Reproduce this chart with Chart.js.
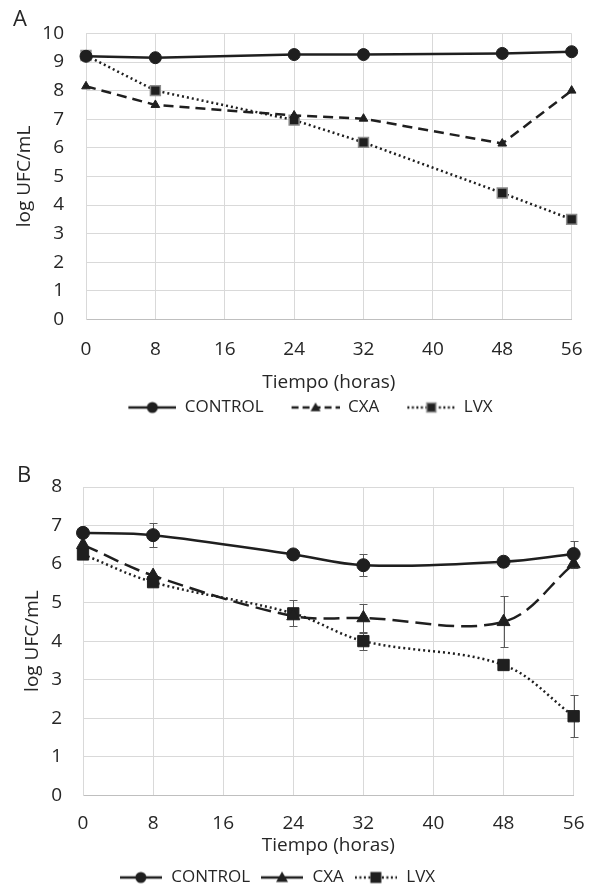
<!DOCTYPE html>
<html lang="es">
<head>
<meta charset="UTF-8">
<title>log UFC/mL</title>
<script src="https://cdn.jsdelivr.net/npm/chart.js"></script>
<style>
  html, body { margin: 0; background: #fff; overflow: hidden; }
  .wrap { position: relative; width: 601px; height: 890px; overflow: hidden; font-family: "Open Sans", sans-serif; color: #262626; }
  .panel { position: absolute; left: 0; width: 601px; }
  .tag { position: absolute; font-size: 22px; line-height: 26px; }
</style>
</head>
<body>
<div class="wrap">
  <div class="panel" style="top:0;height:430px"><canvas id="chartA" width="601" height="430"></canvas></div>
  <div class="panel" style="top:434px;height:462px"><canvas id="chartB" width="601" height="462"></canvas></div>
  <div class="tag" style="left:13px;top:4px">A</div>
  <div class="tag" style="left:17px;top:460px">B</div>
</div>
<script>
var hours = [0, 8, 24, 32, 48, 56]
var seriesNames = ['CONTROL', 'CXA', 'LVX']

// panel A
var controlA = [9.2, 9.15, 9.26, 9.26, 9.3, 9.36]
var cxaA = [8.15, 7.5, 7.13, 7.02, 6.15, 8.0]
var lvxA = [9.23, 8.0, 6.97, 6.19, 4.42, 3.5]

// panel B (with error bars)
var controlB = [6.81, 6.75, 6.25, 5.97, 6.06, 6.26]
var cxaB = [6.5, 5.7, 4.65, 4.6, 4.5, 6.0]
var lvxB = [6.25, 5.53, 4.72, 4.0, 3.38, 2.05]
var controlBErr = [0.05, 0.32, 0.1, 0.28, 0.1, 0.35]
var cxaBErr = [0, 0, 0, 0.37, 0.66, 0]
var lvxBErr = [0, 0, 0.34, 0.22, 0, 0.55]

var ink = '#1f1f1f'
Chart.defaults.font.family = '"Open Sans", sans-serif'
Chart.defaults.font.size = 19
Chart.defaults.color = '#262626'

function pts(ys) {
    return hours.map(function (h, i) { return {x: h, y: ys[i]} })
}

// little line + marker pictures for the legend, with blank room on the left
function icon(gap, w, dash, marker, r, border) {
    var c = document.createElement('canvas')
    c.width = gap + w; c.height = 18
    var g = c.getContext('2d')
    g.strokeStyle = ink; g.lineWidth = 2.5
    g.setLineDash(dash)
    g.beginPath(); g.moveTo(gap, 9); g.lineTo(gap + w, 9); g.stroke()
    g.setLineDash([])
    g.fillStyle = ink
    var cx = gap + w / 2
    g.beginPath()
    if (marker == 'circle') g.arc(cx, 9, r, 0, Math.PI * 2)
    if (marker == 'triangle') { g.moveTo(cx, 9 - r); g.lineTo(cx + r, 9 + r * 0.75); g.lineTo(cx - r, 9 + r * 0.75); g.closePath() }
    if (marker == 'rect') g.rect(cx - r, 9 - r, 2 * r, 2 * r)
    g.fill()
    if (border) { g.strokeStyle = border; g.lineWidth = 1.5; g.stroke() }
    return c
}

var errorBars = {
    id: 'errorBars',
    beforeDatasetsDraw: function (chart) {
        var ctx = chart.ctx, xs = chart.scales.x, ys = chart.scales.y
        ctx.save()
        ctx.strokeStyle = '#595959'
        ctx.lineWidth = 1
        chart.data.datasets.forEach(function (ds) {
            if (!ds.errors) return
            ds.data.forEach(function (p, i) {
                var e = ds.errors[i]
                if (!e) return
                var x = Math.round(xs.getPixelForValue(p.x)) + 0.5
                var top = Math.round(ys.getPixelForValue(p.y + e)) + 0.5
                var bot = Math.round(ys.getPixelForValue(p.y - e)) + 0.5
                ctx.beginPath()
                ctx.moveTo(x, top); ctx.lineTo(x, bot)
                ctx.moveTo(x - 4, top); ctx.lineTo(x + 4, top)
                ctx.moveTo(x - 4, bot); ctx.lineTo(x + 4, bot)
                ctx.stroke()
            })
        })
        ctx.restore()
    }
}

var legendShift = {
    id: 'legendShift',
    afterLayout: function (chart, args, opts) {
        if (chart.legend && opts.dx) {
            chart.legend.left += opts.dx
            chart.legend.right += opts.dx
        }
    }
}

function makeChart(id, o) {
    return new Chart(document.getElementById(id), {
        type: 'line',
        data: { datasets: o.datasets },
        plugins: [errorBars, legendShift],
        options: {
            responsive: false,
            animation: false,
            layout: { padding: o.padding },
            scales: {
                x: {
                    type: 'linear', min: 0, max: 56,
                    ticks: { stepSize: 8, padding: o.xTickPad },
                    grid: { color: '#d9d9d9', drawTicks: false },
                    border: { color: '#bfbfbf' },
                    title: { display: true, text: 'Tiempo (horas)', padding: { top: 0, bottom: o.xTitlePad } },
                    afterFit: function (s) { s.height = o.xHeight }
                },
                y: {
                    min: 0, max: o.yMax,
                    ticks: { stepSize: 1, padding: o.yTickPad },
                    grid: { color: '#d9d9d9', drawTicks: false },
                    border: { color: '#d9d9d9' },
                    title: { display: true, text: 'log UFC/mL', padding: { top: o.yTitlePad, bottom: 0 } },
                    afterFit: function (s) { s.width = o.yWidth }
                }
            },
            plugins: {
                tooltip: { enabled: false },
                legendShift: { dx: o.legendDx },
                legend: {
                    position: 'bottom',
                    labels: {
                        usePointStyle: true,
                        pointStyleWidth: o.iconWidth,
                        padding: 10,
                        font: { size: 17 },
                        generateLabels: function (chart) {
                            var items = Chart.defaults.plugins.legend.labels.generateLabels(chart)
                            items.forEach(function (it, i) { it.pointStyle = o.icons[i] })
                            return items
                        }
                    }
                }
            }
        }
    })
}

makeChart('chartA', {
    padding: { left: 0, right: 22, top: 31, bottom: 4 },
    yMax: 10, yWidth: 86, yTickPad: 22, yTitlePad: 13.5,
    xHeight: 69.5, xTickPad: 18.5, xTitlePad: -5,
    iconWidth: 66, legendDx: 12,
    icons: [
        icon(18, 48, [], 'circle', 5.5),
        icon(18, 48, [7, 4], 'triangle', 5),
        icon(18, 48, [2, 2.5], 'rect', 4.5, '#8c8c8c')
    ],
    datasets: [
        { label: seriesNames[0], data: pts(controlA), borderColor: ink, backgroundColor: ink, borderWidth: 2.5,
          pointStyle: 'circle', pointRadius: 6, pointBorderWidth: 1, tension: 0, clip: false },
        { label: seriesNames[1], data: pts(cxaA), borderColor: ink, backgroundColor: ink, borderWidth: 2.5, borderDash: [10, 6],
          pointStyle: 'triangle', pointRadius: 5, pointBorderWidth: 1, tension: 0, clip: false },
        { label: seriesNames[2], data: pts(lvxA), borderColor: ink, backgroundColor: ink, borderWidth: 2.5, borderDash: [2, 3],
          pointStyle: 'rect', pointRadius: 7, pointBorderColor: '#8c8c8c', pointBorderWidth: 1.5, tension: 0, clip: false }
    ]
})

makeChart('chartB', {
    padding: { left: 0, right: 15, top: 53, bottom: 0 },
    yMax: 8, yWidth: 83, yTickPad: 21, yTitlePad: 21.5,
    xHeight: 63.8, xTickPad: 16.5, xTitlePad: 2,
    iconWidth: 44, legendDx: -16,
    icons: [
        icon(0, 42, [], 'circle', 5.5),
        icon(0, 42, [], 'triangle', 6),
        icon(0, 42, [2, 2.5], 'rect', 5.5)
    ],
    datasets: [
        { label: seriesNames[0], data: pts(controlB), errors: controlBErr, borderColor: ink, backgroundColor: ink, borderWidth: 2.5,
          pointStyle: 'circle', pointRadius: 6.5, pointBorderWidth: 1, tension: 0.35, clip: false },
        { label: seriesNames[1], data: pts(cxaB), errors: cxaBErr, borderColor: ink, backgroundColor: ink, borderWidth: 2.5, borderDash: [16, 7],
          pointStyle: 'triangle', pointRadius: 7.5, pointBorderWidth: 1, tension: 0.35, clip: false },
        { label: seriesNames[2], data: pts(lvxB), errors: lvxBErr, borderColor: ink, backgroundColor: ink, borderWidth: 2.5, borderDash: [2, 3],
          pointStyle: 'rect', pointRadius: 8, pointBorderWidth: 1, tension: 0.35, clip: false }
    ]
})
</script>
</body>
</html>
